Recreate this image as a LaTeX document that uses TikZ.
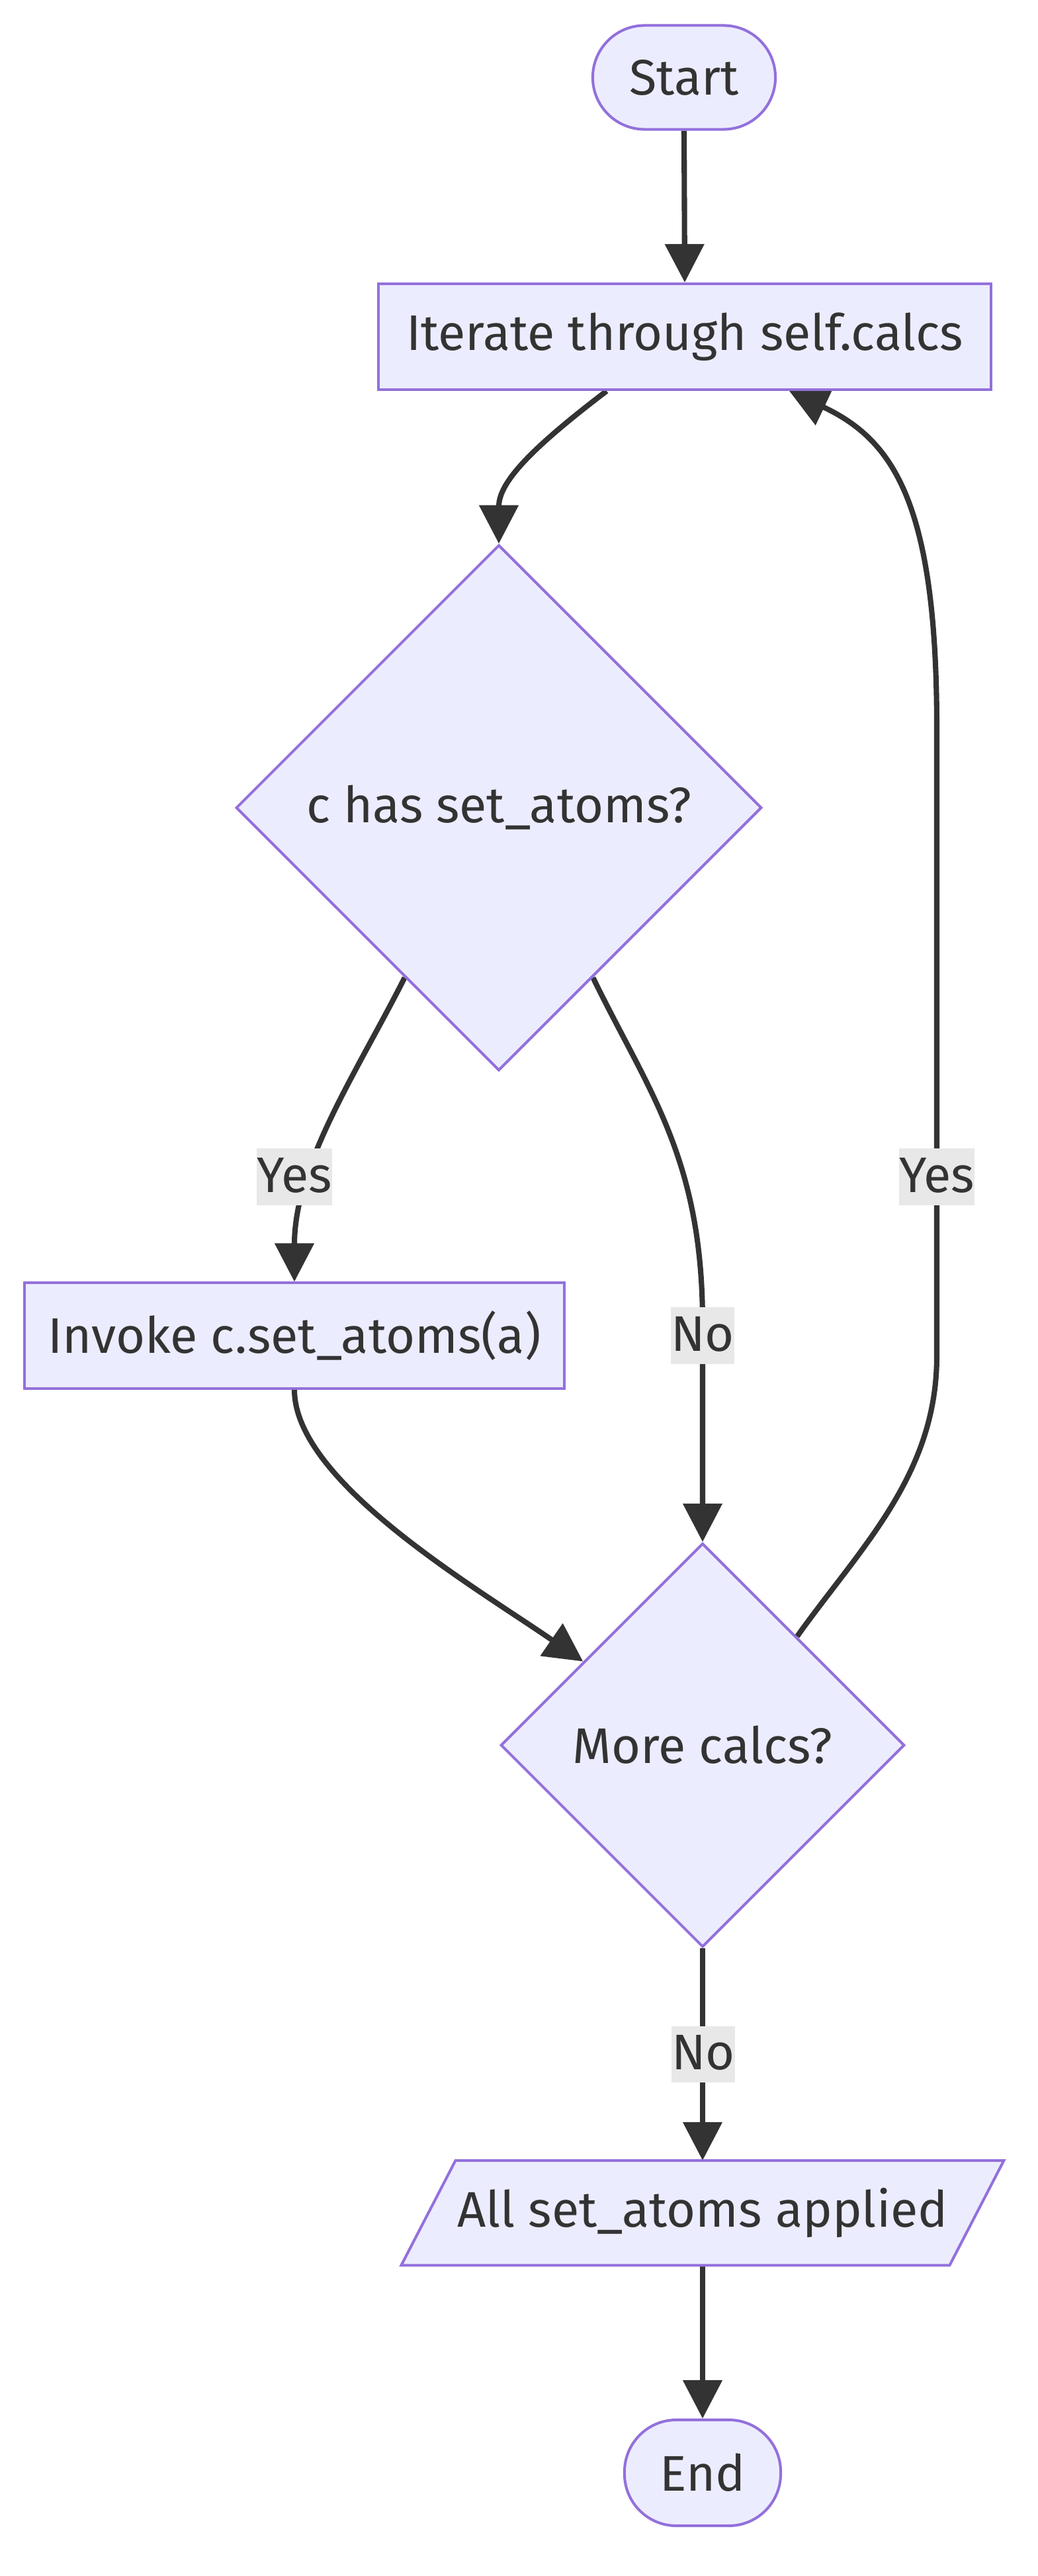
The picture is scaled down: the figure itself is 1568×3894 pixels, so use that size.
\documentclass[tikz,border=0pt]{standalone}
\usepackage{fontspec}
\setmainfont{Fira Sans}
\usetikzlibrary{arrows.meta,shapes.geometric,backgrounds}
\definecolor{nodefill}{HTML}{ECECFF}
\definecolor{nodeline}{HTML}{9370DB}
\definecolor{ink}{HTML}{333333}
\definecolor{lblbg}{HTML}{E8E8E8}
\tikzset{
  txt/.style={text=ink, font=\fontsize{21.5}{26}\selectfont},
  box/.style={txt, draw=nodeline, fill=nodefill, line width=1.15pt, inner sep=0pt, minimum height=1.59cm},
  term/.style={box, rounded corners=0.785cm},
  dec/.style={box, diamond, aspect=1},
  flow/.style={draw=ink, line width=2.3pt, -{Triangle[length=0.58cm,width=0.58cm]}},
  lbl/.style={txt, fill=lblbg, inner xsep=0pt, inner ysep=0pt, minimum height=0.85cm, text depth=0.05cm}
}
\begin{document}
\begin{tikzpicture}[x=0.01cm,y=-0.01cm]
\useasboundingbox (0,0) rectangle (1568,3894);
% nodes
\node[term, minimum width=2.76cm, minimum height=1.57cm] (start) at (1034,117) {Start};
\node[box, minimum width=9.25cm, minimum height=1.6cm] (iter) at (1035,509) {Iterate through self.calcs};
\node[dec, minimum width=7.94cm, minimum height=7.94cm] (d1) at (754,1221) {c has set\_atoms?};
\node[box, minimum width=8.16cm, minimum height=1.59cm] (inv) at (445,2019) {Invoke c.set\_atoms(a)};
\node[dec, minimum width=6.1cm, minimum height=6.1cm] (d2) at (1062,2638) {More calcs?};
\node[txt, inner sep=0pt, minimum width=8.27cm, minimum height=1.57cm] (para) at (1062,3345) {All set\_atoms applied};
\node[term, minimum width=2.36cm, minimum height=1.6cm] (end) at (1062,3738) {End};
% connectors behind the nodes
\begin{scope}[on background layer]
\draw[flow] (start.south) -- (iter.north);
\draw[flow] ([xshift=-1.18cm]iter.south) .. controls (800,680) and (754,730) .. (d1.north);
\draw[flow] (d1.241) .. controls (540,1620) and (445,1760) .. (inv.north);
\draw[flow] (d1.299) .. controls (980,1650) and (1062,1750) .. (1062,2000) -- (d2.north);
\draw[flow] (inv.south) .. controls (445,2240) and (720,2400) .. (d2.145);
\draw[flow] (d2.49) .. controls (1300,2340) and (1416,2230) .. (1416,2050) -- (1416,1100) .. controls (1416,760) and (1350,665) .. ([xshift=1.58cm]iter.south);
\draw[flow] (d2.south) -- (para.north);
\draw[flow] (para.south) -- (end.north);
\draw[draw=nodeline, fill=nodefill, line width=1.15pt] ([xshift=-0.41cm]para.south west) -- ([xshift=-0.41cm]para.south east) -- ([xshift=0.41cm]para.north east) -- ([xshift=0.41cm]para.north west) -- cycle;
\end{scope}
% edge labels
\node[lbl] (l1) at (445,1779) {Yes};
\node[lbl] (l2) at (1062,2019) {No};
\node[lbl] (l3) at (1416,1779) {Yes};
\node[lbl] (l4) at (1063,3105) {No};
\end{tikzpicture}
\end{document}
